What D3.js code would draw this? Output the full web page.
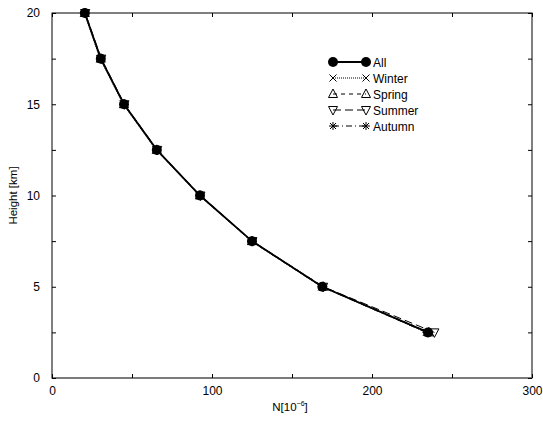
<!DOCTYPE html>
<html><head><meta charset="utf-8">
<script src="https://cdn.jsdelivr.net/npm/d3@7"></script>
<style>body{margin:0;background:#fff}svg{display:block;font-family:"Liberation Sans",Arial,sans-serif}</style>
</head><body><svg id="c" width="543" height="421"></svg>
<script>
const heights = [2.5, 5, 7.5, 10, 12.5, 15, 17.5, 20];
const allN    = [235, 169, 125, 92.5, 65.5, 45, 30.5, 20.5];
const winterN = [234, 168.5, 124.5, 92, 65, 44.5, 30, 20.2];
const springN = [235.5, 169.5, 125, 92.5, 65.5, 45, 30.5, 20.5];
const summerN = [239, 169.5, 125.3, 92.8, 65.8, 45.3, 30.8, 20.8];
const autumnN = [234, 168.5, 124.5, 92.5, 65.5, 45, 30.5, 20.5];
const seriesNames = ["All", "Winter", "Spring", "Summer", "Autumn"];
const xTicks = [0, 100, 200, 300];
const yTicks = [0, 5, 10, 15, 20];

const svg = d3.select("#c");
const L = 52, R = 532, T = 13, B = 378;
const x = d3.scaleLinear().domain([0, 300]).range([L, R]);
const y = d3.scaleLinear().domain([0, 20]).range([B, T]);

// frame
svg.append("rect").attr("x", L).attr("y", T).attr("width", R - L).attr("height", B - T)
  .attr("fill", "none").attr("stroke", "#000").attr("stroke-width", 1);
svg.append("line").attr("x1", L).attr("x2", R).attr("y1", B).attr("y2", B).attr("stroke", "#777").attr("stroke-width", 1.2);

// axes
const xMinor = d3.range(0, 301, 50);
const yMinor = d3.range(0, 20.01, 2.5);
const gx = svg.append("g").attr("transform", `translate(0,${B})`)
  .call(d3.axisBottom(x).tickValues(xMinor).tickSize(-4).tickPadding(8)
    .tickFormat(d => xTicks.includes(d) ? d : ""));
const gy = svg.append("g").attr("transform", `translate(${L},0)`)
  .call(d3.axisLeft(y).tickValues(yMinor).tickSize(-4).tickPadding(12)
    .tickFormat(d => yTicks.includes(d) ? d : ""));
[gx, gy].forEach(g => {
  g.select(".domain").remove();
  g.selectAll("text").attr("font-size", 12).attr("fill", "#000").attr("font-family", "Liberation Sans, Arial, sans-serif");
  g.selectAll("line").attr("stroke", "#000");
});
// top/right ticks
svg.append("g").attr("transform", `translate(0,${T})`).call(d3.axisTop(x).tickValues(xMinor).tickSize(-4).tickFormat(""))
  .call(g => { g.select(".domain").remove(); g.selectAll("line").attr("stroke", "#000"); });
svg.append("g").attr("transform", `translate(${R},0)`).call(d3.axisRight(y).tickValues(yMinor).tickSize(-4).tickFormat(""))
  .call(g => { g.select(".domain").remove(); g.selectAll("line").attr("stroke", "#000"); });

// axis labels
svg.append("text").attr("transform", `translate(17,${(T + B) / 2}) rotate(-90)`).attr("text-anchor", "middle")
  .attr("font-size", 11.5).text("Height [km]");
const xl = svg.append("text").attr("x", 290).attr("y", 411).attr("text-anchor", "middle").attr("font-size", 11.5);
xl.append("tspan").text("N[10");
xl.append("tspan").attr("dy", -5).attr("font-size", 7).text("−6");
xl.append("tspan").attr("dy", 5).text("]");

const series = [
  { name: "All", vals: allN, dash: null, sym: "circle" },
  { name: "Winter", vals: winterN, dash: "1,1", sym: "x" },
  { name: "Spring", vals: springN, dash: "4,4", sym: "tup" },
  { name: "Summer", vals: summerN, dash: "8,4", sym: "tdown" },
  { name: "Autumn", vals: autumnN, dash: "6,3,1,3", sym: "star" }
];

function drawSym(g, type, cx, cy) {
  if (type === "circle") {
    g.append("circle").attr("cx", cx).attr("cy", cy).attr("r", 5).attr("fill", "#000");
  } else if (type === "x") {
    g.append("path").attr("d", `M${cx-3.5},${cy-3.5}L${cx+3.5},${cy+3.5}M${cx-3.5},${cy+3.5}L${cx+3.5},${cy-3.5}`).attr("stroke", "#000").attr("fill", "none");
  } else if (type === "tup") {
    g.append("path").attr("d", `M${cx},${cy-5}L${cx+4.5},${cy+3.5}L${cx-4.5},${cy+3.5}Z`).attr("stroke", "#000").attr("fill", "none");
  } else if (type === "tdown") {
    g.append("path").attr("d", `M${cx},${cy+5}L${cx+4.5},${cy-3.5}L${cx-4.5},${cy-3.5}Z`).attr("stroke", "#000").attr("fill", "none");
  } else if (type === "star") {
    g.append("path").attr("d", `M${cx-4},${cy}L${cx+4},${cy}M${cx},${cy-4}L${cx},${cy+4}M${cx-3},${cy-3}L${cx+3},${cy+3}M${cx-3},${cy+3}L${cx+3},${cy-3}`).attr("stroke", "#000").attr("fill", "none");
  }
}

const line = d3.line().x(d => x(d[0])).y(d => y(d[1]));
series.slice().reverse().forEach(s => {
  const pts = s.vals.map((v, i) => [v, heights[i]]);
  svg.append("path").datum(pts).attr("d", line).attr("fill", "none").attr("stroke", "#000")
    .attr("stroke-width", s.name === "All" ? 1.8 : 1).attr("stroke-dasharray", s.dash);
  const g = svg.append("g");
  pts.forEach(p => drawSym(g, s.sym, x(p[0]), y(p[1])));
});

// legend
const lg = svg.append("g");
series.forEach((s, i) => {
  const yy = 62 + i * 16;
  lg.append("line").attr("x1", 333).attr("x2", 366).attr("y1", yy).attr("y2", yy).attr("stroke", "#000")
    .attr("stroke-width", s.name === "All" ? 1.8 : 1).attr("stroke-dasharray", s.dash);
  drawSym(lg, s.sym, 333, yy);
  drawSym(lg, s.sym, 366, yy);
  lg.append("text").attr("x", 373).attr("y", yy + 4.5).attr("font-size", 12).text(s.name);
});
</script></body></html>
